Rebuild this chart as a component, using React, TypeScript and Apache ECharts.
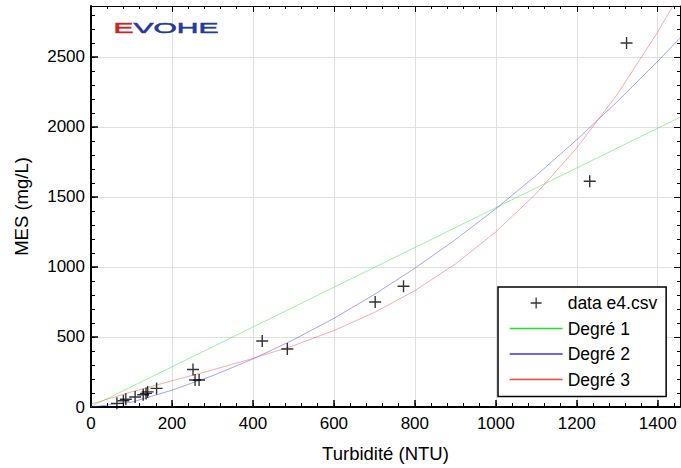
import React, { useEffect, useRef } from "react";
import * as echarts from "echarts";

const FONT = "'Liberation Sans', Arial, Helvetica, sans-serif";

// Series names (legend)
const seriesNames = ["data e4.csv", "Degré 1", "Degré 2", "Degré 3"];

// Measured points
const turbidity = [64, 80, 86, 109, 129, 136, 140, 162, 252, 257, 267, 423, 485, 702, 772, 1232, 1323];
const mes = [26, 45, 55, 71, 88, 97, 108, 133, 268, 193, 193, 471, 414, 750, 862, 1612, 2600];

// Fitted curves
const fitX = [0, 100, 200, 300, 400, 500, 600, 700, 800, 900, 1000, 1100, 1200, 1300, 1400, 1455];
const fitDeg1 = [3, 145, 287, 429, 571, 713, 855, 997, 1139, 1281, 1423, 1565, 1707, 1849, 1991, 2069];
const fitDeg2 = [0, 34, 120, 223, 343, 480, 633, 804, 991, 1195, 1416, 1654, 1909, 2181, 2469, 2635];
const fitDeg3 = [20, 108, 187, 265, 347, 438, 546, 675, 831, 1021, 1251, 1525, 1851, 2233, 2679, 2950];

// Axis ranges / steps
const X_MAX = 1455;
const Y_MAX = 2864;
const X_MAJOR = 200;
const X_MINOR = 40;
const Y_MAJOR = 500;
const Y_MINOR = 100;

const COLORS = ["#000000", "#22e622", "#3535ff", "#ff4040"];

const PLUS = "path://M0,5.3H12V6.7H0ZM5.3,0H6.7V12H5.3Z";

function zip(xs: number[], ys: number[]) {
  return xs.map((x, i) => [x, ys[i]]);
}

export default function App() {
  const ref = useRef<HTMLDivElement>(null);

  useEffect(() => {
    if (!ref.current) return;
    const chart = echarts.init(ref.current, undefined, { renderer: "svg" });

    const plain = (v: number) => String(v);
    const labelStyle = { color: "#000", fontSize: 17, fontFamily: FONT, formatter: plain };
    const nameStyle = { color: "#000", fontSize: 18.5, fontFamily: FONT };
    const hideSym = { color: "rgba(0,0,0,0)", borderWidth: 0, opacity: 0 };

    const xBase = (extra: any) => ({
      type: "value",
      min: 0,
      max: X_MAX,
      axisLine: { show: false, onZero: false },
      axisTick: { show: false },
      axisLabel: { show: false },
      splitLine: { show: false },
      ...extra,
    });
    const yBase = (extra: any) => ({
      type: "value",
      min: 0,
      max: Y_MAX,
      axisLine: { show: false, onZero: false },
      axisTick: { show: false },
      axisLabel: { show: false },
      splitLine: { show: false },
      ...extra,
    });

    const option: any = {
      animation: false,
      backgroundColor: "#fff",
      grid: { left: 91, right: 1, top: 6, bottom: 61, containLabel: false },
      xAxis: [
        xBase({
          position: "bottom",
          interval: X_MAJOR,
          axisLine: { show: true, onZero: false, lineStyle: { color: "#000", width: 2 } },
          axisTick: { show: true, inside: true, length: 7, lineStyle: { color: "#000", width: 1.5 } },
          axisLabel: { show: true, showMaxLabel: false, margin: 8, ...labelStyle },
          splitLine: { show: true, lineStyle: { color: "#e0e0e0", width: 1 } },
          name: "Turbidité (NTU)",
          nameLocation: "middle",
          nameGap: 37,
          nameTextStyle: nameStyle,
        }),
        xBase({
          position: "bottom",
          interval: X_MINOR,
          axisTick: { show: true, inside: true, length: 4, lineStyle: { color: "#000", width: 1 } },
        }),
        xBase({
          position: "top",
          interval: X_MAJOR,
          axisLine: { show: true, onZero: false, lineStyle: { color: "#000", width: 1 } },
          axisTick: { show: true, inside: true, length: 6, lineStyle: { color: "#000", width: 1 } },
        }),
        xBase({
          position: "top",
          interval: X_MINOR,
          axisTick: { show: true, inside: true, length: 3, lineStyle: { color: "#000", width: 1 } },
        }),
      ],
      yAxis: [
        yBase({
          position: "left",
          interval: Y_MAJOR,
          axisLine: { show: true, onZero: false, lineStyle: { color: "#000", width: 2 } },
          axisTick: { show: true, inside: true, length: 7, lineStyle: { color: "#000", width: 1.5 } },
          axisLabel: { show: true, showMaxLabel: false, margin: 6, ...labelStyle },
          splitLine: { show: true, lineStyle: { color: "#e0e0e0", width: 1 } },
          name: "MES (mg/L)",
          nameLocation: "middle",
          nameGap: 60,
          nameTextStyle: nameStyle,
        }),
        yBase({
          position: "left",
          interval: Y_MINOR,
          axisTick: { show: true, inside: true, length: 4, lineStyle: { color: "#000", width: 1 } },
        }),
        yBase({
          position: "right",
          interval: Y_MAJOR,
          axisLine: { show: true, onZero: false, lineStyle: { color: "#000", width: 1 } },
          axisTick: { show: true, inside: true, length: 6, lineStyle: { color: "#000", width: 1 } },
        }),
        yBase({
          position: "right",
          interval: Y_MINOR,
          axisTick: { show: true, inside: true, length: 3, lineStyle: { color: "#000", width: 1 } },
        }),
      ],
      legend: {
        orient: "vertical",
        left: 498,
        top: 287,
        padding: [7, 9, 8, 11],
        borderColor: "#000",
        borderWidth: 1.5,
        backgroundColor: "#fff",
        itemWidth: 53,
        itemHeight: 11,
        itemGap: 7.5,
        textStyle: { color: "#000", fontSize: 17.5, fontFamily: FONT },
        data: [
          { name: seriesNames[0], icon: PLUS },
          { name: seriesNames[1], lineStyle: { opacity: 1, width: 1.3 }, itemStyle: hideSym },
          { name: seriesNames[2], lineStyle: { opacity: 1, width: 1.3 }, itemStyle: hideSym },
          { name: seriesNames[3], lineStyle: { opacity: 1, width: 1.3 }, itemStyle: hideSym },
        ],
      },
      graphic: [
        {
          type: "text",
          left: 113,
          top: 20,
          scaleX: 2.0,
          originX: 0,
          style: {
            text: "{r|E}{b|VOHE}",
            font: `15px ${FONT}`,
            rich: {
              r: { fill: "#c4262c", stroke: "#c4262c", lineWidth: 0.5, fontSize: 15, fontFamily: FONT },
              b: { fill: "#26399c", stroke: "#26399c", lineWidth: 0.5, fontSize: 15, fontFamily: FONT },
            },
          },
          z: 100,
        },
      ],
      series: [
        {
          name: seriesNames[1],
          type: "line",
          data: zip(fitX, fitDeg1),
          symbol: "none",
          clip: true,
          lineStyle: { color: COLORS[1], width: 1, opacity: 0.45 },
          itemStyle: { color: COLORS[1] },
          z: 2,
        },
        {
          name: seriesNames[2],
          type: "line",
          data: zip(fitX, fitDeg2),
          symbol: "none",
          clip: true,
          lineStyle: { color: COLORS[2], width: 1, opacity: 0.45 },
          itemStyle: { color: COLORS[2] },
          z: 2,
        },
        {
          name: seriesNames[3],
          type: "line",
          data: zip(fitX, fitDeg3),
          symbol: "none",
          clip: true,
          lineStyle: { color: COLORS[3], width: 1, opacity: 0.45 },
          itemStyle: { color: COLORS[3] },
          z: 2,
        },
        {
          name: seriesNames[0],
          type: "scatter",
          data: zip(turbidity, mes),
          symbol: PLUS,
          symbolSize: 12,
          itemStyle: { color: COLORS[0] },
          z: 3,
        },
      ],
    };

    chart.setOption(option);
    return () => chart.dispose();
  }, []);

  return <div ref={ref} style={{ width: 681, height: 468, position: "absolute", left: 0, top: 0 }} />;
}
